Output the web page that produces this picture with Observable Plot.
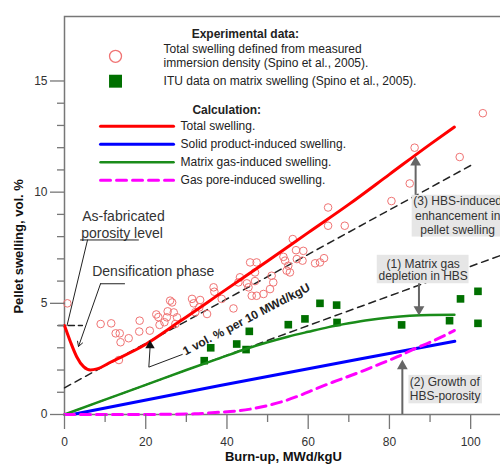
<!DOCTYPE html>
<html><head><meta charset="utf-8">
<script src="https://cdn.jsdelivr.net/npm/d3@7"></script>
<script src="https://cdn.jsdelivr.net/npm/@observablehq/plot@0.6"></script>
<style>
html,body{margin:0;padding:0;overflow:hidden;background:#fff;width:500px;height:465px}
#chart{width:500px;height:465px;overflow:hidden}
#chart svg{max-width:none !important;width:520px !important;height:465px !important}
</style></head><body><div id="chart"></div>
<script>
// ---- Experimental data (Spino et al., 2005) ----
const obsBurnup = [0.7, 8.9, 11.5, 12.6, 13.6, 13.8, 15.8, 13.4, 18.5, 18.4, 21.0, 22.6, 23.1, 23.4, 25.4, 25.2, 24.6, 26.5, 26.9, 27.3, 26.0, 27.7, 31.4, 31.8, 33.4, 33.2, 35.1, 32.2, 36.7, 36.9, 41.6, 38.7, 43.2, 42.8, 44.9, 45.7, 47.3, 46.9, 45.3, 46.1, 47.3, 49.0, 51.0, 51.4, 50.6, 53.9, 54.3, 54.7, 55.1, 56.2, 57.0, 58.8, 57.2, 58.6, 55.5, 61.7, 62.9, 63.9, 64.9, 64.9, 69.0, 80.5, 85.0, 86.2, 97.3, 103.0, 46.9];
const obsSwelling = [5.0, 4.07, 4.1, 3.65, 3.65, 3.25, 3.43, 2.45, 4.22, 3.73, 3.77, 4.5, 4.38, 4.03, 4.64, 4.37, 4.15, 5.04, 4.59, 4.07, 5.12, 4.37, 5.2, 5.0, 5.15, 4.82, 4.52, 4.6, 5.72, 5.52, 4.77, 5.2, 6.17, 5.94, 5.9, 6.84, 6.84, 6.39, 5.72, 5.34, 5.34, 5.42, 6.24, 5.94, 5.64, 7.09, 6.92, 6.47, 6.69, 7.89, 7.39, 7.36, 6.99, 6.92, 6.39, 6.8, 6.84, 7.03, 9.31, 8.49, 8.49, 9.6, 10.39, 12.0, 11.58, 13.55, 6.0];
const ituBurnup = [34.4, 36.0, 42.4, 44.7, 45.5, 55.1, 59.2, 62.9, 67.0, 67.1, 83.0, 94.8, 97.5, 101.8, 101.8];
const ituSwelling = [2.42, 3.0, 3.17, 2.92, 3.74, 4.04, 4.3, 5.0, 4.92, 4.14, 4.03, 4.22, 5.2, 5.54, 4.1];

// ---- Calculation ----
const totalBurnup = [0, 1.5, 3, 4.7, 6.4, 8, 11.3, 19.5, 28.5, 40, 50, 60, 70, 80, 90, 96];
const totalSwelling = [4.0, 3.25, 2.6, 2.15, 2.0, 2.05, 2.35, 3.1, 4.2, 5.65, 6.9, 8.18, 9.45, 10.8, 12.15, 12.93];
const solidBurnup = [1.9, 38.3, 72.7, 96.1];
const solidSwelling = [0, 1.3, 2.5, 3.29];
const matrixBurnup = [0, 10, 20, 30, 38, 45, 50, 55, 60, 65, 70, 75, 80, 85, 90, 96];
const matrixSwelling = [0, 0.67, 1.33, 2.0, 2.52, 2.97, 3.25, 3.5, 3.72, 3.93, 4.1, 4.25, 4.36, 4.44, 4.48, 4.49];
const poreBurnup = [0, 15, 25, 32, 38, 42, 46, 50, 54, 58, 62, 66, 70, 74, 78, 82, 86, 90, 93, 96];
const poreSwelling = [0, 0, 0.01, 0.03, 0.1, 0.15, 0.25, 0.4, 0.6, 0.86, 1.16, 1.45, 1.72, 2.0, 2.3, 2.6, 2.94, 3.25, 3.5, 3.78];
// reference slopes
const rateUpperBurnup = [0, 100];
const rateUpperSwelling = [1.2, 11.2];
const rateLowerBurnup = [0, 110];
const rateLowerSwelling = [0, 7.33];
const porosityBurnup = [-1.5, 4.4];
const porositySwelling = [4.0, 4.0];

// ---- ticks ----
const xMajor = [0, 20, 40, 60, 80, 100];
const xMinor = [10, 30, 50, 70, 90, 110];
const yMajor = [0, 5, 10, 15];
const yMinor = [1, 2, 3, 4, 6, 7, 8, 9, 11, 12, 13, 14];

const pts = (xs, ys) => xs.map((x, i) => ({x, y: ys[i]}));

const RED = "#ff0000", BLUE = "#0000ff", GREEN = "#1a8c1a", MAG = "#ff00ff";
const CIRC = "#f07474", SQ = "#007000", ARR = "#666";
const FONT = "'Liberation Sans', Arial, sans-serif";

const legendLines = [
  {y: 12.96, t: "Total swelling.", c: RED, w: 3, d: null},
  {y: 12.15, t: "Solid product-induced swelling.", c: BLUE, w: 3, d: null},
  {y: 11.34, t: "Matrix gas-induced swelling.", c: GREEN, w: 2.5, d: null},
  {y: 10.53, t: "Gas pore-induced swelling.", c: MAG, w: 3, d: "10,6"}
];

const legendMarks = [
  Plot.text([{x: 31.3, y: 17.12, t: "Experimental data:"}, {x: 31.5, y: 13.68, t: "Calculation:"}],
    {x: "x", y: "y", text: "t", textAnchor: "start", fontWeight: "bold", fontSize: 12, fill: "#222"}),
  Plot.dot([{x: 12.56, y: 16.11}], {x: "x", y: "y", r: 6, stroke: CIRC, strokeWidth: 1.3, fill: "none"}),
  Plot.dot([{x: 12.56, y: 14.99}], {x: "x", y: "y", r: 7.3, symbol: "square", fill: SQ}),
  Plot.text([
    {x: 24.4, y: 16.43, t: "Total swelling defined from measured"},
    {x: 24.4, y: 15.78, t: "immersion density (Spino et al., 2005)."},
    {x: 24.4, y: 14.99, t: "ITU data on matrix swelling (Spino et al., 2005)."}
  ], {x: "x", y: "y", text: "t", textAnchor: "start", fontSize: 12, fill: "#222"}),
  ...legendLines.map(l => Plot.line([{x: 8.87, y: l.y}, {x: 26.85, y: l.y}],
    {x: "x", y: "y", stroke: l.c, strokeWidth: l.w, strokeDasharray: l.d})),
  Plot.text(legendLines, {x: 28.57, y: "y", text: "t", textAnchor: "start", fontSize: 12, fill: "#222"})
];

const annotMarks = [
  // as-fabricated porosity
  Plot.text([{x: 4.36, y: 8.91, t: "As-fabricated"}, {x: 4.11, y: 8.13, t: "porosity level"}],
    {x: "x", y: "y", text: "t", textAnchor: "start", fontSize: 14, fill: "#333"}),
  Plot.line([{x: 3.94, y: 7.85}, {x: 18.2, y: 7.85}], {x: "x", y: "y", stroke: "#222", strokeWidth: 1}),
  Plot.line([{x: 5.67, y: 7.85}, {x: 0.62, y: 4.0}], {x: "x", y: "y", stroke: "#222", strokeWidth: 1}),
  // densification
  Plot.text([{x: 6.82, y: 6.44, t: "Densification phase"}],
    {x: "x", y: "y", text: "t", textAnchor: "start", fontSize: 14, fill: "#333"}),
  Plot.line([{x: 8.87, y: 5.88}, {x: 14.78, y: 5.88}], {x: "x", y: "y", stroke: "#222", strokeWidth: 1}),
  Plot.arrow([{x1: 8.87, y1: 5.88, x2: 3.45, y2: 3.06}], {x1: "x1", y1: "y1", x2: "x2", y2: "y2", stroke: "#222", strokeWidth: 1, headLength: 8}),
  // rate label
  Plot.text([{x: 44.8, y: 4.28, t: "1 vol. % per 10 MWd/kgU"}],
    {x: "x", y: "y", text: "t", rotate: -27.5, fontSize: 12, fontWeight: "bold", fill: "#222"}),
  Plot.line([{x: 29.0, y: 2.70}, {x: 20.76, y: 2.13}, {x: 21.06, y: 3.0}], {x: "x", y: "y", stroke: "#222", strokeWidth: 1}),
  Plot.dot([{x: 21.06, y: 3.1}], {x: "x", y: "y", symbol: "triangle", r: 3.5, fill: "#111"}),
  // grey boxes
  Plot.rect([
    {x1: 77.0, x2: 99.6, y1: 5.88, y2: 7.16},
    {x1: 84.8, x2: 102.9, y1: 0.48, y2: 1.76},
    {x1: 85.6, x2: 113.5, y1: 7.98, y2: 9.86}
  ], {x1: "x1", x2: "x2", y1: "y1", y2: "y2", fill: "#e6e6e6"}),
  Plot.text([
    {x: 88.3, y: 6.78, t: "(1) Matrix gas"},
    {x: 88.3, y: 6.21, t: "depletion in HBS"},
    {x: 96.8, y: 9.6, t: "(3) HBS-induced"},
    {x: 96.8, y: 8.93, t: "enhancement in"},
    {x: 96.8, y: 8.31, t: "pellet swelling"}
  ], {x: "x", y: "y", text: "t", textAnchor: "middle", fontSize: 12, fill: "#333"}),
  Plot.text([
    {x: 85.0, y: 1.45, t: "(2) Growth of"},
    {x: 85.0, y: 0.81, t: "HBS-porosity"}
  ], {x: "x", y: "y", text: "t", textAnchor: "start", fontSize: 12, fill: "#333"}),
  // grey arrows
  Plot.ruleX([
    {x: 86.45, y1: 9.86, y2: 11.3},
    {x: 87.27, y1: 5.88, y2: 4.8},
    {x: 83.18, y1: 0, y2: 2.15}
  ], {x: "x", y1: "y1", y2: "y2", stroke: ARR, strokeWidth: 2}),
  Plot.dot([
    {x: 86.45, y: 11.34, r: 0},
    {x: 87.27, y: 4.73, r: 180},
    {x: 83.18, y: 2.18, r: 0}
  ], {x: "x", y: "y", rotate: "r", symbol: "triangle", r: 4, fill: ARR})
];

const chart = Plot.plot({
  width: 520, height: 465,
  marginLeft: 64, marginRight: 8, marginTop: 16, marginBottom: 51,
  x: {domain: [0, 110.3]},
  y: {domain: [0, 17.9]},
  style: {fontFamily: FONT, fontSize: "12px", background: "#fff", overflow: "visible", maxWidth: "none"},
  marks: [
    Plot.frame({stroke: "#777", strokeWidth: 1.5}),
    // reference dashed lines
    Plot.line(pts(rateUpperBurnup, rateUpperSwelling), {x: "x", y: "y", stroke: "#222", strokeWidth: 1.5, strokeDasharray: "7,5"}),
    Plot.line(pts(rateLowerBurnup, rateLowerSwelling), {x: "x", y: "y", stroke: "#222", strokeWidth: 1.5, strokeDasharray: "7,5"}),
    Plot.line(pts(porosityBurnup, porositySwelling), {x: "x", y: "y", stroke: "#222", strokeWidth: 1.5, strokeDasharray: "6,4"}),
    // experimental
    Plot.dot(pts(obsBurnup, obsSwelling), {x: "x", y: "y", r: 3.8, stroke: CIRC, strokeWidth: 1, fill: "none"}),
    Plot.dot(pts(ituBurnup, ituSwelling), {x: "x", y: "y", r: 4.3, symbol: "square", fill: SQ}),
    // calculation
    Plot.line(pts(solidBurnup, solidSwelling), {x: "x", y: "y", stroke: BLUE, strokeWidth: 3}),
    Plot.line(pts(matrixBurnup, matrixSwelling), {x: "x", y: "y", stroke: GREEN, strokeWidth: 2.5, curve: "monotone-x"}),
    Plot.line(pts(poreBurnup, poreSwelling), {x: "x", y: "y", stroke: MAG, strokeWidth: 3, strokeDasharray: "10,6", curve: "monotone-x"}),
    Plot.line(pts(totalBurnup, totalSwelling), {x: "x", y: "y", stroke: RED, strokeWidth: 3, curve: "monotone-x"}),
    ...annotMarks,
    ...legendMarks,
    // axes
    Plot.axisY({ticks: yMajor, tickSize: 14, tickPadding: 3, stroke: "#777", strokeWidth: 1.3, fill: "#333", fontSize: 12, label: null}),
    Plot.axisY({ticks: yMinor, tickSize: 7, tickFormat: () => "", stroke: "#777", strokeWidth: 1.3, label: null}),
    Plot.axisX({ticks: xMajor, tickSize: 15, tickPadding: 8, stroke: "#777", strokeWidth: 1.3, fill: "#333", fontSize: 12, label: null}),
    Plot.axisX({ticks: xMinor, tickSize: 8, tickFormat: () => "", stroke: "#777", strokeWidth: 1.3, label: null}),
    Plot.text([{x: -11.3, y: 7.56, t: "Pellet swelling, vol. %"}], {x: "x", y: "y", text: "t", rotate: -90, textAnchor: "middle", lineAnchor: "middle", fontWeight: "bold", fontSize: 13, fill: "#111"}),
    Plot.text([{x: 53.9, y: -1.9, t: "Burn-up, MWd/kgU"}], {x: "x", y: "y", text: "t", textAnchor: "middle", lineAnchor: "middle", fontWeight: "bold", fontSize: 13, fill: "#111"})
  ]
});
document.getElementById("chart").appendChild(chart);
</script></body></html>
